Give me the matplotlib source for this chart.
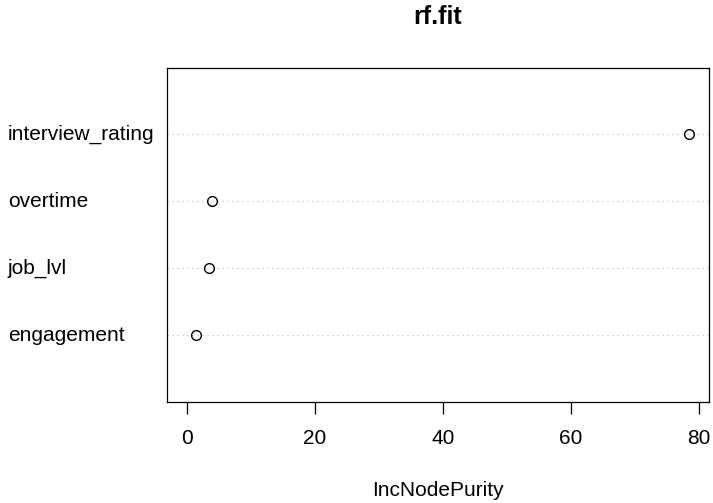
import matplotlib
matplotlib.use("Agg")
import matplotlib.pyplot as plt
import matplotlib.transforms as mtransforms

features = ["engagement", "job_lvl", "overtime", "interview_rating"]
inc_node_purity = [1.35, 3.4, 3.95, 78.4]
xticks = [0, 20, 40, 60, 80]
title = "rf.fit"
xlabel = "IncNodePurity"

plt.rcParams['font.family'] = ['Liberation Sans', 'DejaVu Sans']

W, H = 713, 503
fig = plt.figure(figsize=(W / 100, H / 100), dpi=100)
left, right, top, bottom = 167, 709, 67.5, 402
ax = fig.add_axes([left / W, 1 - bottom / H, (right - left) / W, (bottom - top) / H])

ypos = list(range(1, len(features) + 1))
for y in ypos:
    ax.axhline(y, color='#BEBEBE', lw=0.8, linestyle=(0, (1, 3.5)), zorder=1)
ax.plot(inc_node_purity, ypos, linestyle='none', marker='o', markersize=7,
        markerfacecolor='none', markeredgecolor='black', markeredgewidth=1, zorder=3)

xmax = max(inc_node_purity)
ax.set_xlim(-0.04 * xmax, 1.04 * xmax)
ax.set_ylim(0, len(features) + 1)
ax.set_xticks(xticks)
ax.set_xticklabels([str(t) for t in xticks], fontsize=15)
ax.tick_params(axis='x', length=8.6, width=0.9, pad=11, color='black')
ax.set_yticks([])
for s in ax.spines.values():
    s.set_linewidth(0.9)
    s.set_color('black')

trans = mtransforms.blended_transform_factory(fig.transFigure, ax.transData)
for f, y in zip(features, ypos):
    ax.text(8 / W, y, f, transform=trans, ha='left', va='center', fontsize=15, clip_on=False)

fig.text((left + right) / 2 / W, 1 - 17.5 / H, title, ha='center', va='center',
         fontsize=18, fontweight='bold')
fig.text((left + right) / 2 / W, 1 - 490 / H, xlabel, ha='center', va='center', fontsize=15)

fig.savefig("out.png", dpi=100, facecolor='white')
